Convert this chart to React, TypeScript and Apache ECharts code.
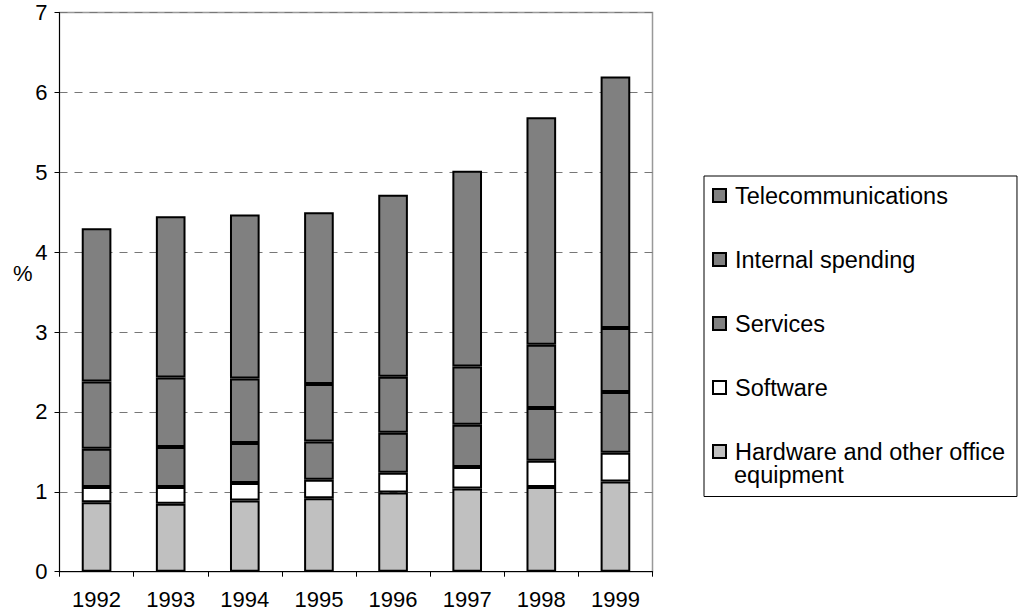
import React, { useEffect, useRef } from 'react';
import * as echarts from 'echarts';

const years = ['1992', '1993', '1994', '1995', '1996', '1997', '1998', '1999'];
const hardware = [0.87, 0.85, 0.89, 0.92, 0.99, 1.04, 1.06, 1.13];
const software = [0.19, 0.21, 0.22, 0.23, 0.25, 0.27, 0.33, 0.36];
const services = [0.48, 0.50, 0.50, 0.48, 0.50, 0.53, 0.66, 0.76];
const internal = [0.84, 0.87, 0.81, 0.72, 0.70, 0.73, 0.79, 0.80];
const telecom = [1.92, 2.02, 2.05, 2.15, 2.28, 2.45, 2.85, 3.15];
const yMin = 0;
const yMax = 7;
const yStep = 1;

const FONT = '"Liberation Sans", Arial, sans-serif';

export default function App() {
  const ref = useRef<HTMLDivElement>(null);
  useEffect(() => {
    if (!ref.current) return;
    const chart = echarts.init(ref.current, undefined, { renderer: 'svg' });
    const bar = (name: string, data: number[], color: string) => ({
      name,
      type: 'bar',
      stack: 'total',
      data,
      barWidth: '40%',
      itemStyle: { color, borderColor: '#000', borderWidth: 2 },
      emphasis: { disabled: true },
    });
    const legendLeft = 704;
    const padLeft = 8;
    chart.setOption({
      animation: false,
      textStyle: { fontFamily: FONT },
      grid: {
        left: 59.5,
        right: 368.5,
        top: 12.5,
        bottom: 42.3,
        show: true,
        borderColor: '#999',
        borderWidth: 1.5,
        backgroundColor: 'transparent',
      },
      xAxis: {
        type: 'category',
        data: years,
        axisLine: { lineStyle: { color: '#000', width: 1 } },
        axisTick: { show: true, length: 5, lineStyle: { color: '#000' } },
        axisLabel: { color: '#000', fontSize: 22, fontFamily: FONT, margin: 17 },
      },
      yAxis: {
        type: 'value',
        min: yMin,
        max: yMax,
        interval: yStep,
        axisLine: { show: true, lineStyle: { color: '#000', width: 1 } },
        axisTick: { show: true, length: 5, lineStyle: { color: '#000' } },
        axisLabel: { color: '#000', fontSize: 22, fontFamily: FONT, margin: 12 },
        splitLine: { show: true, lineStyle: { color: '#777', width: 1, type: [8, 7] } },
      },
      legend: {
        orient: 'vertical',
        left: legendLeft,
        top: 176,
        padding: [7.5, 12, 33, padLeft],
        borderColor: '#000',
        borderWidth: 1,
        itemWidth: 13,
        itemHeight: 13,
        itemGap: 40,
        icon: 'rect',
        itemStyle: { borderColor: '#000', borderWidth: 2 },
        textStyle: {
          fontFamily: FONT,
          fontSize: 23.5,
          color: '#000',
          lineHeight: 23,
          padding: [0, 0, 0, 4],
        },
        data: [
          'Telecommunications',
          'Internal spending',
          'Services',
          'Software',
          'Hardware and other office',
        ],
        selectedMode: false,
      },
      graphic: [
        {
          type: 'text',
          left: 13,
          top: 262,
          style: { text: '%', font: `22px ${FONT}`, fill: '#000' },
        },
        {
          type: 'text',
          left: legendLeft + padLeft + 13 + 5 + 4,
          top: 463,
          style: { text: 'equipment', font: `23.5px ${FONT}`, fill: '#000' },
        },
      ],
      series: [
        bar('Hardware and other office', hardware, '#c0c0c0'),
        bar('Software', software, '#ffffff'),
        bar('Services', services, '#808080'),
        bar('Internal spending', internal, '#808080'),
        bar('Telecommunications', telecom, '#808080'),
      ],
    });
    return () => chart.dispose();
  }, []);
  return (
    <div
      ref={ref}
      style={{ position: 'fixed', left: 0, top: 0, width: 1021, height: 614, background: '#fff' }}
    />
  );
}
